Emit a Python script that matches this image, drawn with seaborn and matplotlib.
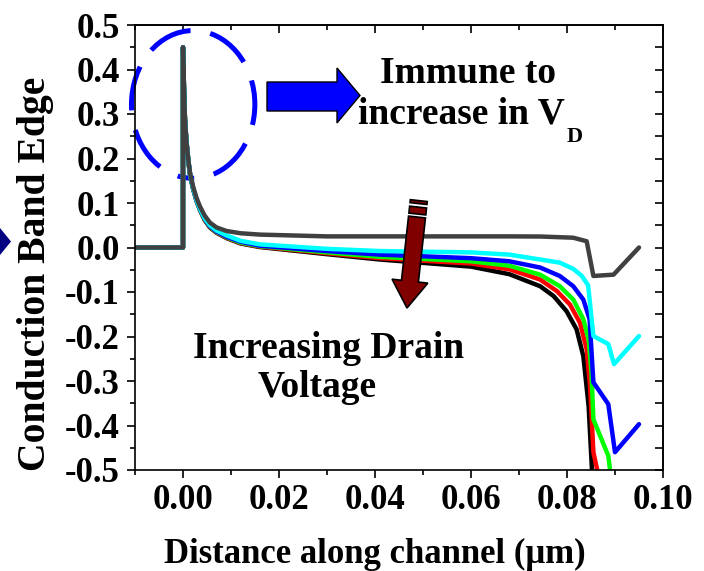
import numpy as np
import pandas as pd
import matplotlib
matplotlib.use("Agg")
import matplotlib.pyplot as plt
import seaborn as sns
from matplotlib.patches import Ellipse, Polygon
from matplotlib.ticker import MultipleLocator, FixedLocator, FixedFormatter

# ---------------- data ----------------
x_common = [-0.01, 0.0, 0.0, 0.0002, 0.0004, 0.0007, 0.0011, 0.0015, 0.0021,
            0.0028, 0.0035, 0.0045, 0.0056, 0.007, 0.0091, 0.012, 0.016,
            0.03, 0.041, 0.06, 0.068, 0.0744]
peak_y = [0, 0, 0.45, 0.36, 0.29, 0.24]

gray_x = x_common + [0.0813, 0.0841, 0.0855, 0.0897, 0.095]
gray_y = peak_y + [0.197, 0.165, 0.137, 0.112, 0.093, 0.072, 0.056, 0.045,
                   0.037, 0.032, 0.029, 0.025, 0.025, 0.025, 0.025, 0.0247] + \
    [0.022, 0.014, -0.064, -0.061, 0.0]

cyan_x = x_common + [0.0785, 0.0813, 0.0831, 0.0844, 0.0855, 0.0886, 0.0898, 0.095]
cyan_y = peak_y + [0.196, 0.163, 0.134, 0.108, 0.088, 0.066, 0.050, 0.038,
                   0.027, 0.015, 0.007, -0.003, -0.008, -0.011, -0.016, -0.027] + \
    [-0.034, -0.048, -0.064, -0.085, -0.199, -0.217, -0.262, -0.199]

blue_x = x_common + [0.0785, 0.0813, 0.0834, 0.0847, 0.0855, 0.0886, 0.0900, 0.095]
blue_y = peak_y + [0.196, 0.163, 0.133, 0.107, 0.087, 0.065, 0.048, 0.036,
                   0.024, 0.013, 0.004, -0.008, -0.016, -0.024, -0.031, -0.045] + \
    [-0.064, -0.087, -0.117, -0.161, -0.303, -0.352, -0.460, -0.397]

green_x = x_common + [0.0785, 0.0813, 0.0834, 0.0845, 0.0851, 0.0855, 0.0886, 0.0892]
green_y = peak_y + [0.195, 0.162, 0.133, 0.106, 0.086, 0.064, 0.047, 0.035,
                    0.023, 0.011, 0.003, -0.011, -0.021, -0.031, -0.041, -0.061] + \
    [-0.087, -0.117, -0.161, -0.206, -0.281, -0.386, -0.468, -0.52]

red_x = x_common + [0.0779, 0.0806, 0.0827, 0.0841, 0.0848, 0.0855, 0.0867]
red_y = peak_y + [0.195, 0.162, 0.132, 0.106, 0.086, 0.063, 0.046, 0.034,
                  0.022, 0.010, 0.002, -0.013, -0.024, -0.036, -0.049, -0.072] + \
    [-0.098, -0.128, -0.169, -0.229, -0.311, -0.460, -0.52]

black_x = x_common + [0.0772, 0.0799, 0.0820, 0.0834, 0.0845, 0.0853]
black_y = peak_y + [0.195, 0.161, 0.132, 0.105, 0.085, 0.062, 0.045, 0.033,
                    0.021, 0.009, 0.001, -0.015, -0.027, -0.043, -0.060, -0.087] + \
    [-0.109, -0.143, -0.184, -0.244, -0.356, -0.52]

series_names = ["black", "red", "green", "blue", "cyan", "gray"]
series_x = [black_x, red_x, green_x, blue_x, cyan_x, gray_x]
series_y = [black_y, red_y, green_y, blue_y, cyan_y, gray_y]
series_colors = ["#000000", "#FF0000", "#00FF00", "#0000FF", "#00FFFF", "#404040"]

x_ticks = [0.00, 0.02, 0.04, 0.06, 0.08, 0.10]
x_tick_labels = ["0.00", "0.02", "0.04", "0.06", "0.08", "0.10"]
y_ticks = [-0.5, -0.4, -0.3, -0.2, -0.1, 0.0, 0.1, 0.2, 0.3, 0.4, 0.5]
y_tick_labels = ["-0.5", "-0.4", "-0.3", "-0.2", "-0.1", "0.0",
                 "0.1", "0.2", "0.3", "0.4", "0.5"]

# ---------------- style ----------------
sns.set_style("ticks")
plt.rcParams["font.family"] = ["Liberation Serif", "DejaVu Serif"]
plt.rcParams["font.weight"] = "bold"
plt.rcParams["axes.labelweight"] = "bold"
plt.rcParams["text.color"] = "black"
plt.rcParams["axes.labelcolor"] = "black"
plt.rcParams["xtick.color"] = "black"
plt.rcParams["ytick.color"] = "black"
plt.rcParams["axes.edgecolor"] = "black"

W, H = 704, 571
fig = plt.figure(figsize=(W / 100, H / 100), dpi=100)
ax = fig.add_axes([135 / W, 1 - 470 / H, 528 / W, 445 / H])

rows = []
for name, xs, ys in zip(series_names, series_x, series_y):
    for i, (xv, yv) in enumerate(zip(xs, ys)):
        rows.append({"x": xv, "y": yv, "series": name, "order": i})
df = pd.DataFrame(rows)

sns.lineplot(data=df, x="x", y="y", hue="series", hue_order=series_names,
             palette=dict(zip(series_names, series_colors)), sort=False,
             estimator=None, linewidth=3.2, legend=False, ax=ax)
for ln in ax.get_lines():
    ln.set_solid_joinstyle("round")
    ln.set_solid_capstyle("round")

ax.set_xlim(-0.01, 0.10)
ax.set_ylim(-0.5, 0.5)
ax.set_xlabel("")
ax.set_ylabel("")

ax.xaxis.set_major_locator(FixedLocator(x_ticks))
ax.xaxis.set_major_formatter(FixedFormatter(x_tick_labels))
ax.xaxis.set_minor_locator(MultipleLocator(0.01))
ax.yaxis.set_major_locator(FixedLocator(y_ticks))
ax.yaxis.set_major_formatter(FixedFormatter(y_tick_labels))
ax.yaxis.set_minor_locator(MultipleLocator(0.05))

for sp in ax.spines.values():
    sp.set_linewidth(1.2)
    sp.set_color("black")
    sp.set_visible(True)

ax.tick_params(axis="both", which="major", direction="out", length=6, width=1.2,
               labelsize=25, colors="black")
ax.tick_params(axis="both", which="minor", direction="out", length=3.6, width=1.2)
ax.tick_params(axis="x", which="major", pad=4)
ax.tick_params(axis="y", which="major", pad=5)
for lab in ax.get_xticklabels() + ax.get_yticklabels():
    lab.set_fontweight("bold")
    lab.set_color("black")

secx = ax.secondary_xaxis("top")
secx.xaxis.set_major_locator(FixedLocator(x_ticks))
secx.xaxis.set_minor_locator(MultipleLocator(0.01))
secx.tick_params(which="major", direction="in", length=6, width=1.2, labeltop=False)
secx.tick_params(which="minor", direction="in", length=3.6, width=1.2)
secx.spines["top"].set_linewidth(1.2)

secy = ax.secondary_yaxis("right")
secy.yaxis.set_major_locator(FixedLocator(y_ticks))
secy.yaxis.set_minor_locator(MultipleLocator(0.05))
secy.tick_params(which="major", direction="in", length=6, width=1.2, labelright=False)
secy.tick_params(which="minor", direction="in", length=6, width=1.2)
secy.spines["right"].set_linewidth(1.2)

# axis labels
fig.text(375 / W, 1 - 563 / H, "Distance along channel (\u03bcm)", ha="center",
         va="baseline", fontsize=25, fontweight="bold", color="black")
fig.text(36 / W, 1 - 274 / H, "Conduction Band Edge", ha="center", va="center",
         rotation=90, fontsize=28.5, fontweight="bold", color="black")

# dashed ellipse
ell = Ellipse((0.00212, 0.3215), width=0.0257, height=0.332, fill=False,
              edgecolor="#0000FF", linewidth=3.6, linestyle=(8.8, (9, 4)),
              clip_on=False, zorder=1)
ax.add_patch(ell)


def px(pts):
    return [(x / W, 1 - y / H) for x, y in pts]


# blue block arrow
blue_arrow = [(267, 82), (337, 82), (337, 68), (360, 95.5), (337, 123),
              (337, 111), (267, 111)]
fig.patches.append(Polygon(px(blue_arrow), closed=True, facecolor="#0000FF",
                           edgecolor="black", linewidth=1.0,
                           transform=fig.transFigure, figure=fig))

# dark red striped arrow
S = np.array([417.0, 217.0])
T = np.array([407.0, 308.0])
d = T - S
L = np.hypot(*d)
u = d / L
n = np.array([u[1], -u[0]])
hw, hh, hl = 8.5, 18.0, 27.0
Hb = S + u * (L - hl)
shaft = [S + n * hw, Hb + n * hw, Hb + n * hh, T, Hb - n * hh, Hb - n * hw, S - n * hw]
fig.patches.append(Polygon(px([tuple(p) for p in shaft]), closed=True,
                           facecolor="#800000", edgecolor="black", linewidth=1.2,
                           transform=fig.transFigure, figure=fig))
for c0, c1 in [(-10.0, -3.0), (-16.5, -13.5)]:
    a = S + u * c0
    b = S + u * c1
    rect = [a + n * hw, b + n * hw, b - n * hw, a - n * hw]
    fig.patches.append(Polygon(px([tuple(p) for p in rect]), closed=True,
                               facecolor="#800000", edgecolor="black", linewidth=1.2,
                               transform=fig.transFigure, figure=fig))

# navy partial arrow at the left edge
fig.patches.append(Polygon(px([(0, 228), (11, 241.5), (0, 255)]), closed=True,
                           facecolor="#000080", edgecolor="none",
                           transform=fig.transFigure, figure=fig))

# annotation texts
fig.text(468 / W, 1 - 83 / H, "Immune to", ha="center", va="baseline",
         fontsize=27, fontweight="bold", color="black")
fig.text(565 / W, 1 - 123 / H, "increase in V", ha="right", va="baseline",
         fontsize=27, fontweight="bold", color="black")
fig.text(567 / W, 1 - 142 / H, "D", ha="left", va="baseline",
         fontsize=16, fontweight="bold", color="black")
fig.text(329 / W, 1 - 358 / H, "Increasing Drain", ha="center", va="baseline",
         fontsize=27, fontweight="bold", color="black")
fig.text(317 / W, 1 - 397 / H, "Voltage", ha="center", va="baseline",
         fontsize=27, fontweight="bold", color="black")

fig.savefig("out.png", dpi=100)
